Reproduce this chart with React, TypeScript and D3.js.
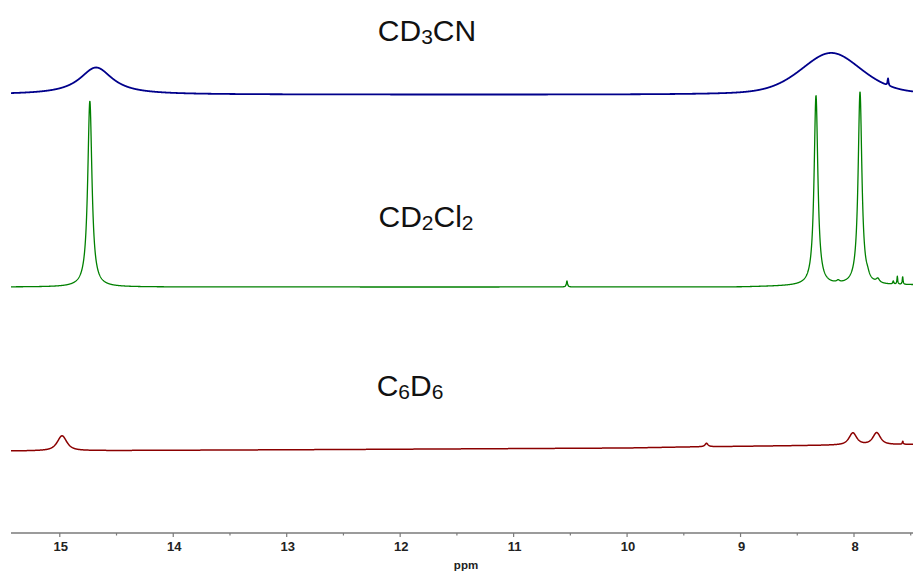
import React, { useMemo } from "react";
import * as d3 from "d3";

// Chemical-shift window (ppm), drawn high → low as usual for NMR
const PPM_RANGE: [number, number] = [15.43, 7.48];
const MAJOR_TICKS = [15, 14, 13, 12, 11, 10, 9, 8];
const MINOR_TICKS = [15.5, 14.5, 13.5, 12.5, 11.5, 10.5, 9.5, 8.5, 7.5];
const AXIS_TITLE = "ppm";

// Peak tables: [shift ppm, height, FWHM ppm, Lorentzian fraction]
type Peak = [number, number, number, number];

const cd3cnPeaks: Peak[] = [
  [14.68, 27, 0.35, 1],
  [8.2, 42, 0.64, 0.4],
  [7.7, 7, 0.01, 1],
];
const cd2cl2Peaks: Peak[] = [
  [14.735, 186, 0.045, 1],
  [10.53, 6, 0.012, 1],
  [8.335, 190, 0.04, 1],
  [8.14, 2, 0.03, 1],
  [7.947, 193, 0.04, 1],
  [7.88, 3, 0.03, 1],
  [7.79, 4, 0.035, 1],
  [7.654, 3, 0.01, 1],
  [7.618, 8, 0.008, 1],
  [7.571, 8, 0.008, 1],
];
const c6d6Peaks: Peak[] = [
  [14.98, 15, 0.1, 0.8],
  [9.3, 3.5, 0.03, 1],
  [8.01, 12, 0.08, 0.8],
  [7.8, 12, 0.08, 0.8],
  [7.57, 3, 0.01, 1],
];

// Baseline drift anchors: [ppm, offset]
const cd3cnBaseline: [number, number][] = [
  [15.43, 0],
  [7.48, -0.5],
];
const cd2cl2Baseline: [number, number][] = [
  [15.43, 0],
  [9, 0],
  [8.5, 1],
  [7.48, 2],
];
const c6d6Baseline: [number, number][] = [
  [15.43, 0],
  [12.5, 1.5],
  [10, 3],
  [9.5, 4],
  [8.4, 5.5],
  [7.48, 6.5],
];

const solventNames = ["CD3CN", "CD2Cl2", "C6D6"];

const W = 913;
const H = 574;
const AXIS_Y = 533;

function lineShape(x: number, p: Peak): number {
  const [c, h, fwhm, eta] = p;
  const d = (x - c) / (fwhm / 2);
  const lor = 1 / (1 + d * d);
  const gau = Math.exp(-Math.LN2 * d * d);
  return h * (eta * lor + (1 - eta) * gau);
}

function spectrum(peaks: Peak[], base: [number, number][]): [number, number][] {
  const drift = d3
    .scaleLinear()
    .domain(base.map((b) => b[0]))
    .range(base.map((b) => b[1]))
    .clamp(true);
  const pts: [number, number][] = [];
  const step = 0.002;
  for (let x = PPM_RANGE[0]; x >= PPM_RANGE[1] - 1e-9; x -= step) {
    let v = drift(x);
    for (const p of peaks) v += lineShape(x, p);
    pts.push([x, v]);
  }
  return pts;
}

function Formula({ text, x, y }: { text: string; x: number; y: number }) {
  const parts = text.match(/\d+|\D+/g) || [];
  return (
    <text
      x={x}
      y={y}
      textAnchor="middle"
      fontFamily="'Liberation Sans', Arial, sans-serif"
      fontSize={30}
      fill="#111"
    >
      {parts.map((p, i) =>
        /\d/.test(p) ? (
          <tspan key={i} fontSize={21} dy={3}>
            {p}
          </tspan>
        ) : (
          <tspan key={i} dy={i > 0 ? -3 : 0}>
            {p}
          </tspan>
        )
      )}
    </text>
  );
}

export default function App() {
  const x = d3.scaleLinear().domain(PPM_RANGE).range([11, W]);
  // One intensity unit per pixel, zero at the axis line
  const y = d3.scaleLinear().domain([0, 500]).range([AXIS_Y, AXIS_Y - 500]);

  const traces = useMemo(
    () => [
      { peaks: cd3cnPeaks, base: cd3cnBaseline, offset: 438.5, color: "#00008b", width: 1.8 },
      { peaks: cd2cl2Peaks, base: cd2cl2Baseline, offset: 246, color: "#008000", width: 1.3 },
      { peaks: c6d6Peaks, base: c6d6Baseline, offset: 82, color: "#8b0000", width: 1.5 },
    ],
    []
  );

  const labelPos = [
    { x: 427, y: 41 },
    { x: 426, y: 227 },
    { x: 410, y: 396 },
  ];

  return (
    <svg
      width={W}
      height={H}
      style={{ position: "absolute", left: 0, top: 0, background: "#fff" }}
    >
      {traces.map((t, i) => {
        const pts = spectrum(t.peaks, t.base);
        const path = d3
          .line<[number, number]>()
          .x((d) => x(d[0]))
          .y((d) => y(d[1] + t.offset))(pts);
        return (
          <path
            key={i}
            d={path || ""}
            fill="none"
            stroke={t.color}
            strokeWidth={t.width}
            strokeLinejoin="round"
          />
        );
      })}

      {solventNames.map((s, i) => (
        <Formula key={s} text={s} x={labelPos[i].x} y={labelPos[i].y} />
      ))}

      <g>
        <line x1={11} x2={W} y1={AXIS_Y} y2={AXIS_Y} stroke="#7a7a7a" strokeWidth={1.3} />
        {MINOR_TICKS.filter((t) => t <= PPM_RANGE[0] && t >= PPM_RANGE[1]).map((t) => (
          <line key={t} x1={x(t)} x2={x(t)} y1={AXIS_Y} y2={AXIS_Y + 2.5} stroke="#7a7a7a" strokeWidth={1.2} />
        ))}
        {MAJOR_TICKS.map((t) => (
          <g key={t}>
            <line x1={x(t)} x2={x(t)} y1={AXIS_Y} y2={AXIS_Y + 4} stroke="#7a7a7a" strokeWidth={1.2} />
            <text
              x={x(t) + 1}
              y={551}
              textAnchor="middle"
              fontFamily="'Liberation Sans', Arial, sans-serif"
              fontWeight="bold"
              fontSize={13}
              fill="#222"
            >
              {t}
            </text>
          </g>
        ))}
        <text
          x={466}
          y={569}
          textAnchor="middle"
          fontFamily="'Liberation Sans', Arial, sans-serif"
          fontWeight="bold"
          fontSize={11.5}
          fill="#222"
        >
          {AXIS_TITLE}
        </text>
      </g>
    </svg>
  );
}
